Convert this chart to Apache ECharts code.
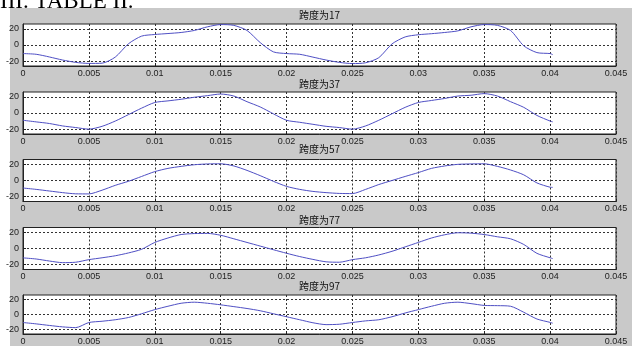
<!DOCTYPE html>
<html>
<head>
<meta charset="utf-8">
<script src="https://cdn.jsdelivr.net/npm/echarts@6/dist/echarts.min.js"></script>
<style>
html,body{margin:0;padding:0;background:#fff;}
#chart{width:636px;height:346px;}
</style>
</head>
<body>
<div id="chart"></div>
<script>
// sample times (s)
var times = [0,0.001,0.002,0.003,0.004,0.005,0.006,0.007,0.008,0.009,0.010,
  0.011,0.012,0.013,0.014,0.015,0.016,0.017,0.018,0.019,0.020,
  0.021,0.022,0.023,0.024,0.025,0.026,0.027,0.028,0.029,0.030,
  0.031,0.032,0.033,0.034,0.035,0.036,0.037,0.038,0.039,0.040,0.0402];

var span17 = [-10.6,-11.5,-14.8,-18.6,-21.5,-22.8,-22.5,-15,1.5,11,13,
  14.2,15.5,18,22.5,25.3,24.3,18,3,-8.5,-10.6,
  -11.5,-15,-18.6,-21.5,-23,-22,-15.7,1.3,10,12.7,
  14,15.5,17.5,22.5,25.3,24.3,18,-1,-9.4,-10.6,-12];
var span37 = [-9,-11,-13,-16,-18,-20,-16.5,-10,-2,6,13,
  15,17,19.5,21.5,23.5,21,14,7.5,-1,-9,
  -11.5,-14,-16.5,-18,-20,-16,-9,-1,7,13,
  15.5,18,21,22,24,21,14,7,-3,-10,-11];
var span57 = [-9.3,-11,-13,-15,-16.5,-16.6,-12,-6,-1,5,11,
  15,17.5,19.5,20.5,20.7,18,12.5,6,-1,-7.3,
  -11,-13.5,-15,-16,-16.2,-11,-5,0,5,9.8,
  15,18,20,20.5,20.7,17.5,13,7,-3,-8.3,-8.5];
var span77 = [-11.6,-13,-15.5,-17.5,-17,-13.8,-11.5,-9,-5.5,-1,7.5,
  13,17.3,18.5,18.7,16.4,12,7.5,3,-1.5,-5.9,
  -10,-13.5,-16.5,-17,-13.8,-11.5,-8,-3.5,2,7.5,
  13,17,19.5,19,17.3,14.5,12,5,-6,-11.5,-12.5];
var span97 = [-10.7,-12.5,-14.6,-16.5,-17.5,-10.7,-9,-7,-4,1,6.5,
  11,15,16.4,15,12.9,10.5,8,5,1,-3,
  -7,-11,-13.5,-13,-10.7,-8.5,-7,-3,2,6.5,
  11,15,16.4,14.5,12.1,11.8,11,3,-6,-10.5,-11.6];

var titles = ['跨度为17','跨度为37','跨度为57','跨度为77','跨度为97'];
var seriesValues = [span17, span37, span57, span77, span97];
var yTicks = [-20, 0, 20];
var xTickStep = 0.005;

var tops = [24, 92, 159.5, 227.5, 295];
var plotH = 42;
var titleY = [15, 84, 149, 220, 286];

var labelFont = '"Liberation Sans Narrow","Liberation Sans",Arial,sans-serif';
var grids = [], xAxes = [], yAxes = [], series = [], graphics = [];

graphics.push({type:'text', z:-20, left:0, top:-10,
  style:{text:'III. TABLE II.', font:'23px "Liberation Serif","Times New Roman",serif', fill:'#000'}});
graphics.push({type:'rect', z:-10, shape:{x:10, y:8, width:622, height:338},
  style:{fill:'#c9c9c9'}});

for (var i = 0; i < 5; i++) {
  grids.push({left:23, width:593, top:tops[i], height:plotH, show:true,
    backgroundColor:'#fff', borderColor:'#222', borderWidth:1, containLabel:false});
  xAxes.push({type:'value', gridIndex:i, min:0, max:0.045, interval:xTickStep,
    axisLine:{show:true, onZero:false, lineStyle:{color:'#222'}},
    axisTick:{show:true, inside:true, length:3, lineStyle:{color:'#222'}},
    axisLabel:{show:true, fontSize:9, color:'#222', margin:3, fontFamily:labelFont,
      showMinLabel:true, showMaxLabel:true},
    splitLine:{show:true, lineStyle:{color:'#333', type:[2,2], width:1}}});
  yAxes.push({type:'value', gridIndex:i, min:-26, max:26,
    axisLine:{show:true, onZero:false, lineStyle:{color:'#222'}},
    axisTick:{show:true, inside:true, length:3, customValues:yTicks, lineStyle:{color:'#222'}},
    axisLabel:{show:true, fontSize:9, color:'#222', margin:4, fontFamily:labelFont, customValues:yTicks},
    splitLine:{show:true, lineStyle:{color:'#333', type:[2,2], width:1}}});
  var pts = [];
  for (var k = 0; k < times.length; k++) pts.push([times[k], seriesValues[i][k]]);
  series.push({type:'line', xAxisIndex:i, yAxisIndex:i, data:pts, showSymbol:false,
    smooth:0.25, lineStyle:{color:'#4f4fc4', width:1}, animation:false});
  graphics.push({type:'text', x:319.5, y:titleY[i], z:10,
    style:{text:titles[i], textAlign:'center', textVerticalAlign:'middle',
      font:'10px "Noto Sans CJK SC",sans-serif', fill:'#111'}});
}

var chart = echarts.init(document.getElementById('chart'), null, {renderer:'canvas'});
chart.setOption({animation:false, grid:grids, xAxis:xAxes, yAxis:yAxes, series:series, graphic:graphics});
</script>
</body>
</html>
